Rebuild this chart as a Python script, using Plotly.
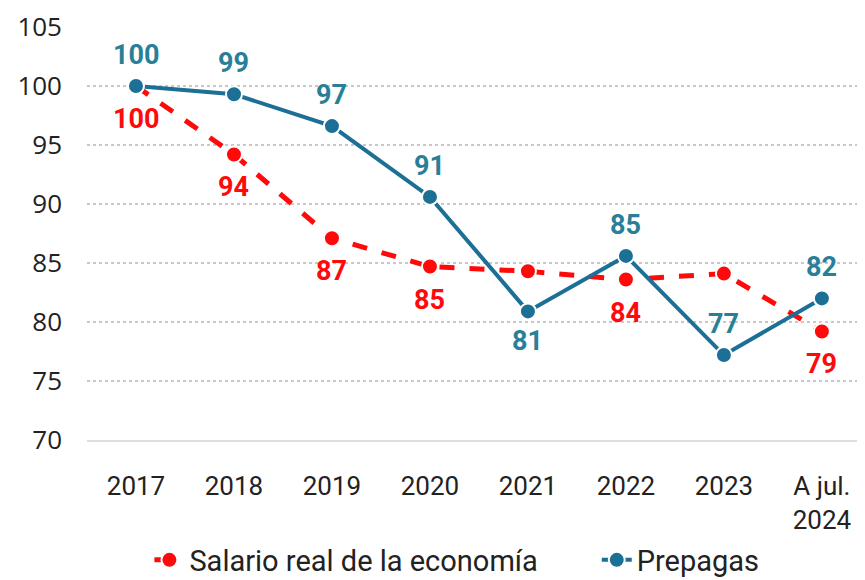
import plotly.graph_objects as go

categories = ["2017", "2018", "2019", "2020", "2021", "2022", "2023", "A jul.<br>2024"]
salario = [100.0, 94.2, 87.1, 84.7, 84.3, 83.6, 84.1, 79.2]
prepagas = [100.0, 99.3, 96.6, 90.6, 80.9, 85.6, 77.2, 82.0]
salario_labels = ["100", "94", "87", "85", "", "84", "", "79"]
prepagas_labels = ["100", "99", "97", "91", "81", "85", "77", "82"]
prepagas_below = [False, False, False, False, True, False, False, False]
y_ticks = [70, 75, 80, 85, 90, 95, 100, 105]

RED = "#ff0a0a"
TEAL = "#1c6f95"
TEAL_TXT = "#2a7f98"

fig = go.Figure()

fig.add_trace(go.Scatter(
    x=categories, y=salario,
    mode="lines+markers",
    name="Salario real de la economía",
    line=dict(color=RED, width=5, dash="dash"),
    marker=dict(color=RED, size=16, line=dict(color="white", width=2)),
    legend="legend",
    showlegend=True,
))

fig.add_trace(go.Scatter(
    x=categories, y=prepagas,
    mode="lines+markers",
    name="Prepagas",
    line=dict(color=TEAL, width=4),
    marker=dict(color=TEAL, size=16, line=dict(color="white", width=2)),
    legend="legend2",
    showlegend=True,
))

# data labels (x given as category index, since "2017" etc. look numeric)
for i, (val, lab) in enumerate(zip(salario, salario_labels)):
    if lab:
        fig.add_annotation(x=i, y=val, text=lab, showarrow=False, yshift=-33,
                           font=dict(family="Roboto", size=27, color=RED, weight="bold"))
for i, (val, lab, below) in enumerate(zip(prepagas, prepagas_labels, prepagas_below)):
    fig.add_annotation(x=i, y=val, text=lab, showarrow=False, yshift=-30 if below else 31,
                       font=dict(family="Roboto", size=27, color=TEAL_TXT, weight="bold"))

# page body has an 8px margin, so the figure is sized/offset to compensate
fig.update_layout(
    width=857, height=572,
    margin=dict(l=79, r=0, t=19, b=140, autoexpand=False),
    plot_bgcolor="white",
    paper_bgcolor="white",
    showlegend=True,
    font=dict(family="Roboto", size=20, color="#222222"),
    xaxis=dict(
        type="category",
        range=[-0.5, 7.44],
        showgrid=False,
        showline=True,
        linecolor="#dedede",
        linewidth=1.5,
        ticks="",
        ticklabelstandoff=22,
        tickfont=dict(family="Roboto", size=26, color="#222222"),
    ),
    yaxis=dict(
        range=[70, 105],
        tickvals=y_ticks,
        showgrid=True,
        gridcolor="#c8c8c8",
        griddash="dot",
        gridwidth=1.5,
        zeroline=False,
        showline=False,
        ticks="",
        ticklabelstandoff=24,
        tickfont=dict(family="Open Sans", size=26, color="#222222"),
    ),
    legend=dict(
        visible=True,
        orientation="h",
        xref="container", yref="container",
        x=0.165, xanchor="left",
        y=0.035, yanchor="middle",
        font=dict(family="Roboto", size=29, color="#222222"),
    ),
    legend2=dict(
        visible=True,
        orientation="h",
        xref="container", yref="container",
        x=0.687, xanchor="left",
        y=0.035, yanchor="middle",
        font=dict(family="Roboto", size=29, color="#222222"),
    ),
)

fig.write_html("out.html")
